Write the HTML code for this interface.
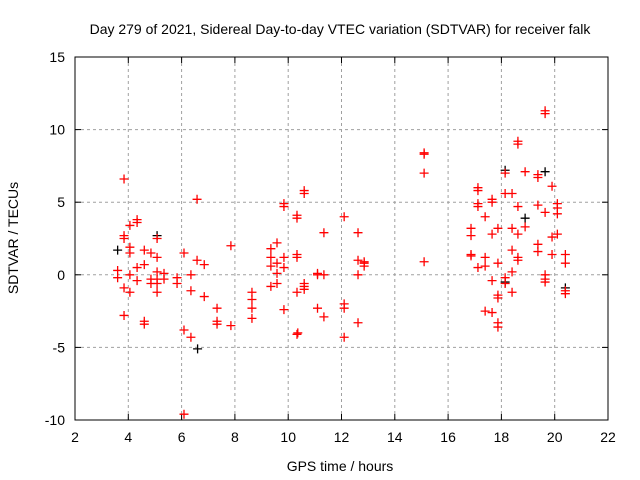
<!DOCTYPE html>
<html><head><meta charset="utf-8"><style>
body{margin:0;background:#fff}
svg{display:block;font-family:"Liberation Sans",sans-serif}
</style></head><body>
<svg id="chart" width="640" height="480"></svg>
<script>
const xTicks=[2,4,6,8,10,12,14,16,18,20,22];
const yTicks=[-10,-5,0,5,10,15];
const redX=[3.6,3.6,3.84,3.84,3.84,3.84,3.84,4.06,4.06,4.06,4.06,4.06,4.33,4.33,4.33,4.33,4.6,4.6,4.6,4.6,4.85,4.85,4.85,5.08,5.08,5.08,5.08,5.08,5.08,5.34,5.34,5.83,5.83,6.09,6.09,6.09,6.35,6.35,6.35,6.58,6.58,6.85,6.85,7.33,7.33,7.33,7.85,7.85,8.64,8.64,8.64,8.64,
15.1,15.1,15.1,15.1,10.6,10.6,9.84,9.84,10.33,10.33,12.1,11.34,12.62,9.58,9.35,9.35,9.84,10.33,10.33,9.58,9.35,9.84,9.58,12.62,12.85,12.85,12.85,11.1,11.1,11.34,12.62,9.35,9.58,10.6,10.6,10.6,10.33,9.84,11.1,11.34,12.1,12.1,12.62,10.36,10.33,12.1,
19.64,19.64,18.62,18.62,18.14,18.89,19.37,19.37,19.9,17.12,17.12,17.65,17.65,18.14,18.4,17.12,17.12,18.62,19.37,19.64,20.1,20.1,20.1,17.39,16.86,16.86,17.87,18.4,18.89,17.65,18.62,19.9,20.1,19.37,19.37,16.86,16.86,17.39,18.4,18.62,18.62,19.9,20.4,20.4,17.87,17.12,17.39,18.4,19.64,19.64,19.64,17.65,18.14,18.14,20.4,20.4,17.87,17.87,18.4,17.39,17.65,17.87,17.87];
const redY=[0.3,-0.2,6.6,2.7,2.5,-0.9,-2.8,3.4,1.9,1.5,0,-1.2,3.8,3.6,0.5,-0.4,1.7,0.7,-3.2,-3.4,1.5,-0.3,-0.6,2.5,1.2,-0.6,-1.2,0.2,-0.3,0.1,-0.3,-0.2,-0.6,1.5,-3.8,-9.6,0,-1.1,-4.3,5.2,1.0,0.7,-1.5,-2.3,-3.2,-3.4,2.0,-3.5,-1.2,-1.7,-2.3,-3.0,
8.4,8.3,7.0,0.9,5.8,5.6,4.9,4.7,4.1,3.9,4.0,2.9,2.9,2.2,1.8,1.2,1.2,1.4,1.2,0.8,0.6,0.5,0.1,1.0,0.9,0.8,0.6,0.1,0.0,0,0,-0.8,-0.6,-0.6,-0.8,-1.0,-1.2,-2.4,-2.3,-2.9,-2.0,-2.3,-3.3,-4.0,-4.1,-4.3,
11.3,11.1,9.2,9.0,7.0,7.1,6.9,6.7,6.1,6.0,5.8,5.2,5.0,5.6,5.6,4.9,4.7,4.7,4.8,4.3,4.9,4.6,4.2,4.0,3.2,2.7,3.2,3.2,3.3,2.8,2.8,2.6,2.8,2.1,1.6,1.4,1.3,1.2,1.7,1.2,1.0,1.4,1.4,0.8,0.8,0.5,0.6,0.2,0,-0.3,-0.5,-0.4,-0.2,-0.6,-1.1,-1.3,-1.4,-1.6,-1.2,-2.5,-2.6,-3.3,-3.6];
const blackX=[3.6,5.08,6.6,19.64,18.89,18.14,20.4,18.14];
const blackY=[1.7,2.7,-5.1,7.1,3.9,-0.5,-0.9,7.2];
const L=75,R=608,T=57,B=420,x0=2,x1=22,y0=-10,y1=15;
const sx=v=>L+(v-x0)/(x1-x0)*(R-L);
const sy=v=>B-(v-y0)/(y1-y0)*(B-T);
const svg=document.getElementById('chart');
const NS='http://www.w3.org/2000/svg';
function mk(t,a){const e=document.createElementNS(NS,t);for(const k in a)e.setAttribute(k,a[k]);svg.appendChild(e);return e;}
xTicks.forEach(v=>{
  const x=sx(v);
  if(v!==x0&&v!==x1){const g=mk('line',{x1:x,y1:T,x2:x,y2:B,stroke:'#a0a0a0','stroke-dasharray':'3,3'});
  
  }
  mk('line',{x1:x,y1:B,x2:x,y2:B-6,stroke:'#000'});
  mk('line',{x1:x,y1:T,x2:x,y2:T+6,stroke:'#000'});
  const t=mk('text',{x:x,y:B+22,'text-anchor':'middle','font-size':14});t.textContent=v;
  
  
});
yTicks.forEach(v=>{
  const y=sy(v);
  if(v!==y0&&v!==y1){const g=mk('line',{x1:L,y1:y,x2:R,y2:y,stroke:'#a0a0a0','stroke-dasharray':'3,3'});
  
  }
  mk('line',{x1:L,y1:y,x2:L+6,y2:y,stroke:'#000'});
  mk('line',{x1:R,y1:y,x2:R-6,y2:y,stroke:'#000'});
  const t=mk('text',{x:L-10,y:y+5,'text-anchor':'end','font-size':14});t.textContent=v;
  
  
});
const fr=mk('rect',{x:L,y:T,width:R-L,height:B-T,fill:'none',stroke:'#000'});


function plus(x,y,c,name){
  const g=document.createElementNS(NS,'path');
  const px=sx(x),py=sy(y);
  g.setAttribute('d',`M${px-4.5},${py}H${px+4.5}M${px},${py-4.5}V${py+4.5}`);
  g.setAttribute('stroke',c);g.setAttribute('stroke-width','1.3');
  
  
  svg.appendChild(g);
}
blackX.forEach((v,i)=>plus(v,blackY[i],'#000','black-point'));
redX.forEach((v,i)=>plus(v,redY[i],'#f00','red-point'));
const tt=mk('text',{x:340,y:34,'text-anchor':'middle','font-size':14});tt.textContent='Day 279 of 2021, Sidereal Day-to-day VTEC variation (SDTVAR) for receiver falk';


const xt=mk('text',{x:340,y:471,'text-anchor':'middle','font-size':14});xt.textContent='GPS time / hours';


const yt=mk('text',{x:18,y:238,'text-anchor':'middle','font-size':14,transform:'rotate(-90 18 238)'});yt.textContent='SDTVAR / TECUs';


</script>
</body></html>
